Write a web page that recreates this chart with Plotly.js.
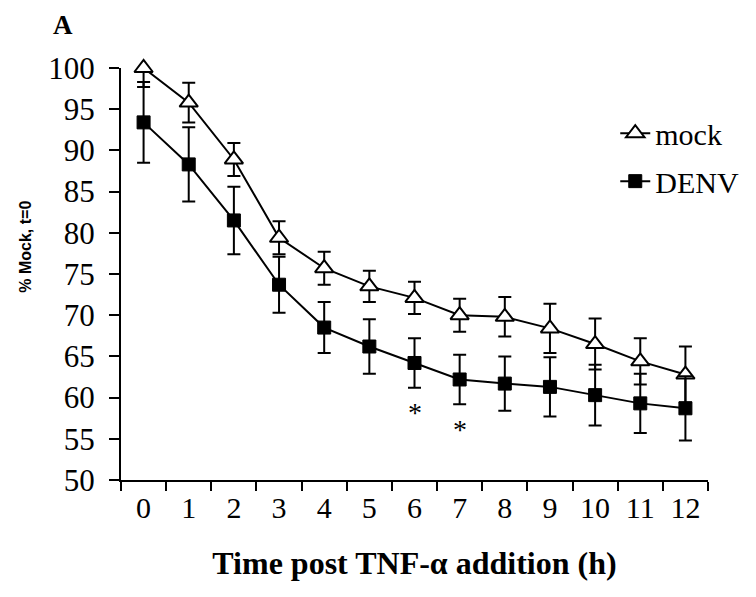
<!DOCTYPE html>
<html>
<head>
<meta charset="utf-8">
<script src="https://cdn.plot.ly/plotly-3.0.1.min.js"></script>
<style>html,body{margin:0;padding:0;background:#fff}#chart{width:756px;height:597px}</style>
</head>
<body>
<div id="chart"></div>
<script>
const hours = ["0","1","2","3","4","5","6","7","8","9","10","11","12"];
const mockValues = [100, 95.8, 88.9, 79.4, 75.7, 73.5, 72.1, 70.0, 69.8, 68.4, 66.5, 64.4, 62.8];
const mockErrors = [2.3, 2.4, 2.0, 2.0, 2.0, 1.9, 1.95, 2.0, 2.4, 3.0, 3.1, 2.8, 3.4];
const denvValues = [93.4, 88.3, 81.5, 73.7, 68.5, 66.2, 64.2, 62.2, 61.7, 61.3, 60.3, 59.3, 58.7];
const denvErrors = [4.9, 4.5, 4.1, 3.4, 3.1, 3.3, 3.0, 3.0, 3.3, 3.6, 3.7, 3.6, 3.9];
const sigHours = ["6", "7"];
const sigY = [58.7, 56.6];
const yTicks = [50, 55, 60, 65, 70, 75, 80, 85, 90, 95, 100];

const serif = "Liberation Serif, Times New Roman, serif";

const traces = [
  {
    x: hours, y: mockValues, name: "mock", type: "scatter", mode: "lines+markers",
    legendgroup: "a", cliponaxis: false,
    line: {color: "#000", width: 2},
    marker: {symbol: "triangle-up", size: 16, color: "#fff", line: {color: "#000", width: 2}},
    error_y: {type: "data", array: mockErrors, visible: true, color: "#000", thickness: 2, width: 6.5}
  },
  {
    x: hours, y: denvValues, name: "DENV", type: "scatter", mode: "lines+markers",
    legendgroup: "b", cliponaxis: false,
    line: {color: "#000", width: 2},
    marker: {symbol: "square", size: 13, color: "#000", line: {color: "#000", width: 1}},
    error_y: {type: "data", array: denvErrors, visible: true, color: "#000", thickness: 2, width: 6.5}
  }
];

const annotations = sigHours.map((h, i) => ({
  x: h, y: sigY[i], xref: "x", yref: "y", text: "*", showarrow: false,
  font: {family: serif, size: 28, color: "#000"}, yshift: -4
}));
annotations.push({
  text: "<b>A</b>", xref: "paper", yref: "paper", x: -0.099, y: 1.104,
  xanchor: "center", yanchor: "middle", showarrow: false,
  font: {family: serif, size: 27, color: "#000"}
});
annotations.push({
  text: "<b>% Mock, t=0</b>", xref: "paper", yref: "paper", x: -0.164, y: 0.5655,
  xanchor: "center", yanchor: "middle", textangle: -90, showarrow: false,
  font: {family: "Liberation Sans, Arial, sans-serif", size: 16, color: "#000"}
});

const layout = {
  width: 756, height: 597,
  margin: {l: 121, r: 38, t: 68, b: 117},
  paper_bgcolor: "#fff", plot_bgcolor: "#fff",
  showlegend: true,
  legend: {
    x: 0.842, y: 0.905, xanchor: "left", yanchor: "top",
    font: {family: serif, size: 30, color: "#000"},
    bgcolor: "rgba(0,0,0,0)", tracegroupgap: 6, traceorder: "grouped"
  },
  xaxis: {
    type: "category", tickson: "boundaries", range: [-0.5, 12.5],
    showline: true, linecolor: "#000", linewidth: 2,
    ticks: "outside", ticklen: 9, tickwidth: 2, tickcolor: "#000",
    showgrid: false, zeroline: false,
    tickfont: {family: serif, size: 30, color: "#000"},
    title: {text: "<b>Time post TNF-α addition (h)</b>", font: {family: serif, size: 32, color: "#000"}, standoff: 29}
  },
  yaxis: {
    range: [50, 100], tickvals: yTicks,
    showline: true, linecolor: "#000", linewidth: 2,
    ticks: "outside", ticklen: 10, tickwidth: 2, tickcolor: "#000",
    ticklabelstandoff: 8,
    showgrid: false, zeroline: false,
    tickfont: {family: serif, size: 31, color: "#000"}
  },
  annotations: annotations
};

Plotly.newPlot("chart", traces, layout, {displayModeBar: false, staticPlot: true});
</script>
</body>
</html>
